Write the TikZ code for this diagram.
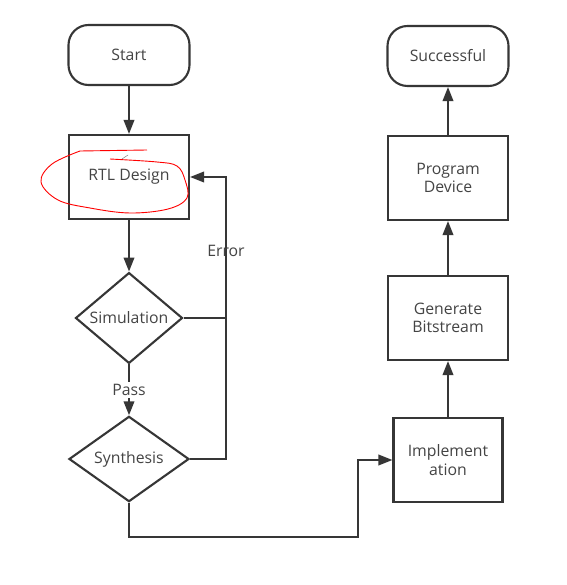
\documentclass[tikz,border=0pt]{standalone}
\usepackage{fontspec}
\setmainfont{Open Sans}
\usepackage{tikz}
\usetikzlibrary{arrows.meta,shapes.geometric}
\definecolor{linegray}{HTML}{363636}
\definecolor{textgray}{HTML}{444444}

\begin{document}
\begin{tikzpicture}[x=1pt,y=-1pt,->,>={Triangle[length=14pt,width=10.5pt]},line width=2.1pt,color=linegray,
    every node/.style={font=\fontsize{15.8}{18.5}\selectfont,text=textgray},
    terminal/.style={rectangle,rounded corners=20pt,draw,minimum width=121pt,minimum height=60pt,align=center},
    block/.style={rectangle,draw,minimum width=120pt,minimum height=84pt,align=center},
    decision/.style={diamond,draw,inner sep=0pt,align=center}]
    \useasboundingbox[fill=white] (0,0) rectangle (566,585);

    % left column
    \node[terminal] (start) at (129,55) {Start};
    \node[block] (rtl) [below of=start,node distance=122pt] {RTL Design};
    \node[decision,minimum width=107pt,minimum height=84pt] (sim) [below of=rtl,node distance=141pt] {Simulation};
    \node[decision,minimum width=120pt,minimum height=83pt] (syn) [below of=sim,node distance=141pt] {Synthesis};

    % right column
    \node[terminal] (done) at (448,56) {Successful};
    \node[block] (prog) [below of=done,node distance=122pt] {Program\\Device};
    \node[block] (gen) [below of=prog,node distance=140pt] {Generate\\Bitstream};
    \node[block,minimum width=109pt] (impl) [below of=gen,node distance=142pt] {Implement\\ation};

    \coordinate (err) at (226,177);
    \coordinate (low) at (358,537);

    \draw (start) -- (rtl);
    \draw (rtl) -- (sim);
    \draw (sim) -- node[fill=white,inner sep=2pt] {Pass} (syn);
    \draw[-] (sim.east) -- (sim.east -| err);
    \draw (syn.east) -| (err) -- (rtl.east);
    \node at (226,251) {Error};
    \draw (syn.south) |- (low) |- (impl.west);
    \draw (impl) -- (gen);
    \draw (gen) -- (prog);
    \draw (prog) -- (done);

    % red mark
    \draw[-,red,line width=0.9pt] (147,150) -- (80,151);
    \draw[-,red,line width=0.9pt] plot[smooth,tension=0.6] coordinates {(80,151) (52,164) (41,182) (58,200) (90,208) (130,213) (168,209) (187,198) (185,180) (177,166) (157,162) (110,159)};
    \draw[-,gray,line width=0.5pt] (122,159) -- (128,155);
\end{tikzpicture}
\end{document}
